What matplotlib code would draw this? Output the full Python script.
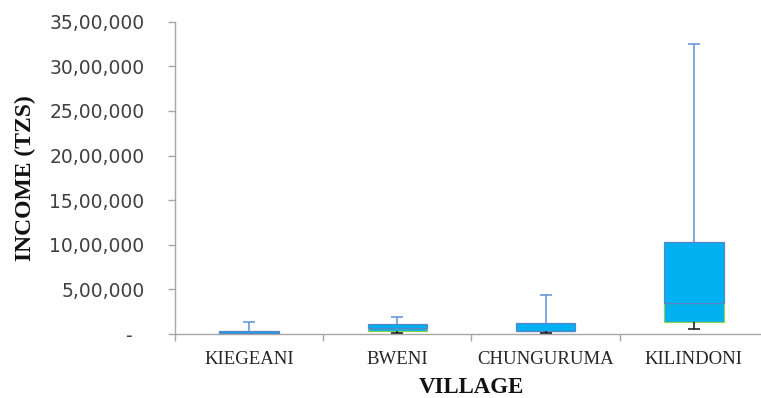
import matplotlib
matplotlib.use("Agg")
import matplotlib.pyplot as plt
from matplotlib.ticker import FixedLocator, FuncFormatter

# Household income summary per village (TZS)
villages = ["KIEGEANI", "BWENI", "CHUNGURUMA", "KILINDONI"]
income_min = [3000, 11000, 11000, 56000]
income_q1 = [3000, 37000, 34000, 135000]
income_median = [15000, 67000, 39000, 348000]
income_q3 = [30000, 112000, 120000, 1031000]
income_max = [131000, 187000, 434000, 3250000]
y_ticks = [0, 500000, 1000000, 1500000, 2000000, 2500000, 3000000, 3500000]

FILL = "#00B0F0"
UPPER_EDGE = "#5B84C8"
LOWER_EDGE = "#92D050"
UPPER_WHISKER = "#5F90D8"
LOWER_WHISKER = "#111111"
AXIS_GREY = "#A6A6A6"


def indian_format(value, _pos=None):
    """Format a number with Indian digit grouping (e.g. 35,00,000)."""
    n = int(round(value))
    if n == 0:
        return "-  "
    s = str(n)
    head, tail = s[:-3], s[-3:]
    groups = []
    while len(head) > 2:
        groups.insert(0, head[-2:])
        head = head[:-2]
    if head:
        groups.insert(0, head)
    return ",".join(groups + [tail])


fig = plt.figure(figsize=(7.61, 3.98), dpi=100)
ax = fig.add_axes([175 / 761, 64 / 398, 593 / 761, 312.3 / 398])

xs = [i + 0.5 for i in range(len(villages))]
box_w = 0.4
cap_half = 0.04

# Box: lower segment (Q1 -> median) and upper segment (median -> Q3)
lower_h = [m - q for m, q in zip(income_median, income_q1)]
upper_h = [q - m for q, m in zip(income_q3, income_median)]
ax.bar(xs, lower_h, bottom=income_q1, width=box_w, color=FILL,
       edgecolor=LOWER_EDGE, linewidth=0.9, zorder=2)
ax.bar(xs, upper_h, bottom=income_median, width=box_w, color=FILL,
       edgecolor=UPPER_EDGE, linewidth=0.9, zorder=3)

# Whiskers
for x, lo, q1, q3, hi in zip(xs, income_min, income_q1, income_q3, income_max):
    if hi > q3:
        ax.vlines(x, q3, hi, color=UPPER_WHISKER, linewidth=1.1, zorder=4)
        ax.hlines(hi, x - cap_half, x + cap_half, color=UPPER_WHISKER,
                  linewidth=1.1, zorder=4)
    if lo < q1:
        ax.vlines(x, lo, q1, color=LOWER_WHISKER, linewidth=1.1, zorder=4)
        ax.hlines(lo, x - cap_half, x + cap_half, color=LOWER_WHISKER,
                  linewidth=1.1, zorder=4)

ax.set_xlim(0, len(villages))
ax.set_ylim(0, 3500000)

# Axes styling
for side in ("top", "right"):
    ax.spines[side].set_visible(False)
for side in ("left", "bottom"):
    ax.spines[side].set_color(AXIS_GREY)
    ax.spines[side].set_linewidth(1.0)

ax.xaxis.set_major_locator(FixedLocator(xs))
ax.set_xticklabels(villages, family="Liberation Serif", fontsize=13.5,
                   color="#262626")
ax.xaxis.set_minor_locator(FixedLocator(list(range(len(villages) + 1))))
ax.tick_params(axis="x", which="major", length=0, pad=12.5)
ax.tick_params(axis="x", which="minor", length=5, width=1.0,
               color=AXIS_GREY, direction="out")

ax.yaxis.set_major_locator(FixedLocator(y_ticks))
ax.yaxis.set_major_formatter(FuncFormatter(indian_format))
ax.tick_params(axis="y", which="major", length=5, width=1.0,
               color=AXIS_GREY, direction="out", pad=17,
               labelsize=13.5, labelcolor="#404040")
for lab in ax.get_yticklabels():
    lab.set_family("DejaVu Sans")

ax.set_xlabel("VILLAGE", family="Liberation Serif", fontsize=16.5,
              fontweight="bold", color="#111111")
ax.xaxis.set_label_coords(0.5, -0.138)
ax.set_ylabel("INCOME (TZS)", family="Liberation Serif", fontsize=17,
              fontweight="bold", color="#111111")
ax.yaxis.set_label_coords(-0.2344, 0.5)

fig.savefig("out.png", dpi=100)
